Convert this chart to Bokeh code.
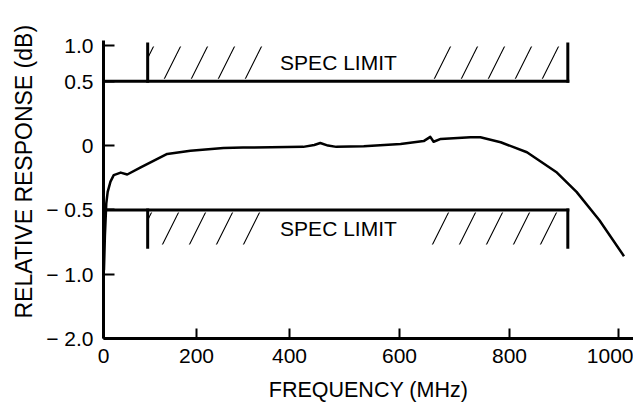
import numpy as np
from bokeh.plotting import figure
from bokeh.models import FixedTicker, Range1d, Title
from bokeh.embed import file_html
from bokeh.resources import INLINE
from bokeh.core.properties import value

# ---- data ----
freq_mhz = [1, 3, 6, 9, 15, 22, 37, 51, 80, 137, 187, 258, 300, 360, 425, 445,
            456, 470, 485, 535, 602, 644, 656, 662, 675, 729, 747, 784, 832,
            887, 923, 965, 1010]
response_db = [-0.97, -0.70, -0.45, -0.36, -0.28, -0.23, -0.21, -0.225, -0.17,
               -0.065, -0.04, -0.018, -0.015, -0.013, -0.010, 0.005, 0.020,
               0.0, -0.010, -0.005, 0.012, 0.035, 0.068, 0.030, 0.052, 0.065,
               0.065, 0.026, -0.052, -0.21, -0.36, -0.58, -0.86]

x_tick_values = [0, 200, 400, 600, 800, 1000]
x_tick_labels = ["0", "200", "400", "600", "800", "1000"]
y_tick_values = [-2.0, -1.0, -0.5, 0.0, 0.5, 1.0]
y_tick_labels = ["\u2212 2.0", "\u2212 1.0", "\u2212 0.5", "0", "0.5", "1.0"]

x_title = "FREQUENCY (MHz)"
y_title = "RELATIVE RESPONSE (dB)"

spec_upper_db = 0.5
spec_lower_db = -0.5
spec_start_mhz = 95
spec_end_mhz = 907
spec_text = "SPEC LIMIT"

# ---- the original chart's (non-uniform) axis scales ----
X_BREAKS = [0, 200, 400, 600, 800, 1000, 1100]
X_POS = [0, 93, 186, 296, 406, 515, 570]
Y_BREAKS = [-2.0, -1.0, -0.5, 0.0, 0.5, 1.0, 1.2]
Y_POS = [-1.5, -1.0, -0.5, 0.0, 0.5, 0.778, 0.889]


def fx(v):
    return np.interp(v, X_BREAKS, X_POS)


def fy(v):
    return np.interp(v, Y_BREAKS, Y_POS)


FONT = "Liberation Sans"

p = figure(width=633, height=407, output_backend="svg", toolbar_location=None,
           x_range=Range1d(0, 530), y_range=Range1d(-1.5, 0.817),
           min_border_left=103, min_border_right=0, min_border_top=40,
           min_border_bottom=69)
p.outline_line_color = None
p.grid.visible = False
p.background_fill_color = "white"

# spec limit bands
band = 0.29
x0, x1 = fx(spec_start_mhz), fx(spec_end_mhz)
gap_l, gap_r = fx(355), fx(655)
for base, sgn in ((spec_upper_db, 1), (spec_lower_db, -1)):
    yb = fy(base)
    ye = yb + sgn * band
    lo, hi = min(yb, ye), max(yb, ye)
    p.quad(left=[x0, gap_r], right=[gap_l, x1], bottom=[lo + 0.02, lo + 0.02],
           top=[hi - 0.02, hi - 0.02], fill_alpha=0, line_alpha=0,
           hatch_pattern="/", hatch_scale=54, hatch_weight=1.1,
           hatch_color="black")
    p.segment(x0=[0, x0, x1], y0=[yb, yb, yb], x1=[x1, x0, x1], y1=[yb, ye, ye],
              line_color="black", line_width=3, line_cap="square")
    p.text(x=[fx(489)], y=[yb + sgn * 0.145], text=[spec_text],
           text_font=value(FONT), text_font_size="21px", text_align="center",
           text_baseline="middle", text_color="black")

# response curve
p.line(fx(np.array(freq_mhz)), fy(np.array(response_db)), line_color="black",
       line_width=2.5, line_join="round")

# axes
for ax in (p.xaxis[0], p.yaxis[0]):
    ax.axis_line_width = 3
    ax.axis_line_color = "black"
    ax.major_tick_line_width = 2
    ax.major_tick_line_color = "black"
    ax.major_tick_out = 0
    ax.minor_tick_line_color = None
    ax.major_label_text_font = FONT
    ax.major_label_text_font_size = "21px"
    ax.major_label_text_color = "black"

p.xaxis.ticker = FixedTicker(ticks=list(fx(np.array(x_tick_values))))
p.xaxis.major_label_overrides = {float(fx(v)): s for v, s in zip(x_tick_values, x_tick_labels)}
p.xaxis.major_tick_in = 10
p.xaxis.major_label_standoff = 10
p.xaxis.axis_label = x_title
p.xaxis.axis_label_standoff = 12
p.xaxis.axis_label_text_font = FONT
p.xaxis.axis_label_text_font_size = "21.5px"
p.xaxis.axis_label_text_font_style = "normal"
p.xaxis.axis_label_text_color = "black"

p.yaxis.ticker = FixedTicker(ticks=list(fy(np.array(y_tick_values))))
p.yaxis.major_label_overrides = {float(fy(v)): s for v, s in zip(y_tick_values, y_tick_labels)}
p.yaxis.major_tick_in = 11
p.yaxis.major_label_standoff = 10

# y axis title, placed along the axis as in the original chart
p.add_layout(Title(text=y_title, align="left", offset=20, standoff=14,
                   text_font=FONT, text_font_size="23px",
                   text_font_style="normal", text_color="black"), "left")

open("out.html", "w").write(file_html(p, INLINE))
